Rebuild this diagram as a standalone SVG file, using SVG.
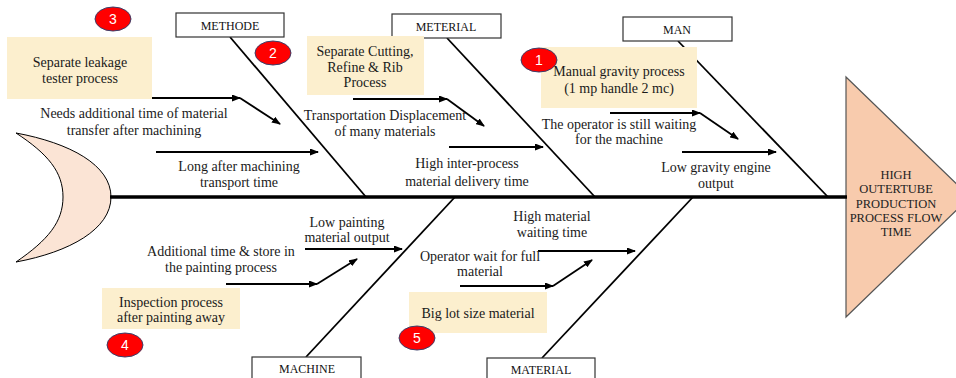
<svg xmlns="http://www.w3.org/2000/svg" width="956" height="378" viewBox="0 0 956 378">
<style>
.t{font-family:"Liberation Serif","Times New Roman",serif;font-size:14px;fill:#1a1a1a;text-anchor:middle}
.c{font-family:"Liberation Serif","Times New Roman",serif;font-size:12px;fill:#111;text-anchor:middle}
.h{font-family:"Liberation Serif","Times New Roman",serif;font-size:12.5px;fill:#222;text-anchor:middle}
.n{font-family:"Liberation Sans",Arial,sans-serif;font-size:14px;fill:#fff;text-anchor:middle}
.cat{fill:#fff;stroke:#333;stroke-width:1.2}
.note{fill:#FCEFCE}
.bone{stroke:#000;stroke-width:1.8;fill:none}
.arr{stroke:#000;stroke-width:1.8;fill:none}
.badge{fill:#FF0000;stroke:#3a3f6a;stroke-width:1}
</style>
<defs>
<marker id="ah" markerWidth="9" markerHeight="7" refX="8" refY="3.5" orient="auto" markerUnits="userSpaceOnUse">
<path d="M0,0 L9,3.5 L0,7 z" fill="#000"/>
</marker>
</defs>
<g id="tail">
<path d="M16,133 C70,143 111,165 111,197 C111,229 70,252 16,262 C48,240 63,222 63,197 C63,172 48,154 16,133 Z" fill="#FBE4D5" stroke="#000" stroke-width="1"/>
</g>
<g id="head">
<polygon points="846,77 970,197 846,317" fill="#F8CBAD" stroke="#555" stroke-width="1.2"/>
<text class="h" x="896" y="179">HIGH</text>
<text class="h" x="896" y="193">OUTERTUBE</text>
<text class="h" x="896" y="208">PRODUCTION</text>
<text class="h" x="896" y="222">PROCESS FLOW</text>
<text class="h" x="896" y="236">TIME</text>
</g>
<g id="connectors">
<line x1="110" y1="197" x2="847" y2="197" stroke="#000" stroke-width="3.5"/>
<line class="bone" x1="230" y1="37" x2="366" y2="197"/>
<line class="bone" x1="447" y1="38" x2="595" y2="197"/>
<line class="bone" x1="678" y1="41" x2="828" y2="197"/>
<line class="bone" x1="455" y1="197" x2="306" y2="357"/>
<line class="bone" x1="693" y1="197" x2="542" y2="358"/>
<line class="arr" x1="148" y1="98" x2="240" y2="98" marker-end="url(#ah)"/>
<line class="arr" x1="240" y1="98" x2="280" y2="124" marker-end="url(#ah)"/>
<line class="arr" x1="156" y1="152" x2="318" y2="152" marker-end="url(#ah)"/>
<line class="arr" x1="353" y1="99" x2="447" y2="99" marker-end="url(#ah)"/>
<line class="arr" x1="447" y1="99" x2="484" y2="126" marker-end="url(#ah)"/>
<line class="arr" x1="449" y1="147" x2="543" y2="147" marker-end="url(#ah)"/>
<line class="arr" x1="610" y1="113" x2="700" y2="113" marker-end="url(#ah)"/>
<line class="arr" x1="700" y1="113" x2="738" y2="139" marker-end="url(#ah)"/>
<line class="arr" x1="682" y1="152" x2="776" y2="152" marker-end="url(#ah)"/>
<line class="arr" x1="305" y1="249" x2="402" y2="249" marker-end="url(#ah)"/>
<line class="arr" x1="226" y1="284" x2="317" y2="284" marker-end="url(#ah)"/>
<line class="arr" x1="317" y1="284" x2="357" y2="259" marker-end="url(#ah)"/>
<line class="arr" x1="538" y1="251" x2="635" y2="251" marker-end="url(#ah)"/>
<line class="arr" x1="460" y1="286" x2="553" y2="286" marker-end="url(#ah)"/>
<line class="arr" x1="553" y1="286" x2="592" y2="260" marker-end="url(#ah)"/>
</g>
<g id="cat-methode"><rect class="cat" x="176" y="13" width="108" height="24"/><text class="c" x="230" y="30">METHODE</text></g>
<g id="cat-meterial"><rect class="cat" x="392" y="14" width="109" height="24"/><text class="c" x="446" y="31">METERIAL</text></g>
<g id="cat-man"><rect class="cat" x="623" y="17" width="109" height="24"/><text class="c" x="677" y="34">MAN</text></g>
<g id="cat-machine"><rect class="cat" x="252" y="357" width="109" height="26"/><text class="c" x="307" y="373">MACHINE</text></g>
<g id="cat-material"><rect class="cat" x="487" y="358" width="108" height="26"/><text class="c" x="541" y="374">MATERIAL</text></g>
<g id="note-leakage"><rect class="note" x="7" y="37" width="145" height="62"/><text class="t" x="80" y="67">Separate leakage</text><text class="t" x="80" y="83">tester process</text></g>
<g id="note-cutting"><rect class="note" x="307" y="36" width="117" height="59"/><text class="t" x="365" y="56">Separate Cutting,</text><text class="t" x="365" y="72">Refine &amp; Rib</text><text class="t" x="365" y="87">Process</text></g>
<g id="note-gravity"><rect class="note" x="541" y="47" width="156" height="61"/><text class="t" x="619" y="76">Manual gravity process</text><text class="t" x="619" y="93">(1 mp handle 2 mc)</text></g>
<g id="note-inspection"><rect class="note" x="102" y="288" width="138" height="41"/><text class="t" x="171" y="307">Inspection process</text><text class="t" x="171" y="322">after painting away</text></g>
<g id="note-lot"><rect class="note" x="409" y="292" width="138" height="41"/><text class="t" x="478" y="318">Big lot size material</text></g>
<g id="cause-needs"><text class="t" x="134" y="118">Needs additional time of material</text><text class="t" x="134" y="135">transfer after machining</text></g>
<g id="cause-long"><text class="t" x="239" y="171">Long after machining</text><text class="t" x="239" y="187">transport time</text></g>
<g id="cause-transport"><text class="t" x="385" y="120">Transportation Displacement</text><text class="t" x="385" y="136">of many materials</text></g>
<g id="cause-inter"><text class="t" x="467" y="168">High inter-process</text><text class="t" x="467" y="186">material delivery time</text></g>
<g id="cause-operator"><text class="t" x="619" y="129">The operator is still waiting</text><text class="t" x="619" y="144">for the machine</text></g>
<g id="cause-lowgravity"><text class="t" x="716" y="172">Low gravity engine</text><text class="t" x="716" y="188">output</text></g>
<g id="cause-lowpaint"><text class="t" x="347" y="227">Low painting</text><text class="t" x="347" y="242">material output</text></g>
<g id="cause-additional"><text class="t" x="221" y="256">Additional time &amp; store in</text><text class="t" x="221" y="272">the painting process</text></g>
<g id="cause-highmat"><text class="t" x="552" y="221">High material</text><text class="t" x="552" y="237">waiting time</text></g>
<g id="cause-opwait"><text class="t" x="480" y="261">Operator wait for full</text><text class="t" x="480" y="276">material</text></g>
<g id="badge-1"><ellipse class="badge" cx="539" cy="60" rx="18" ry="12"/><text class="n" x="539" y="65">1</text></g>
<g id="badge-2"><ellipse class="badge" cx="273" cy="53" rx="18" ry="12"/><text class="n" x="273" y="58">2</text></g>
<g id="badge-3"><ellipse class="badge" cx="113" cy="19" rx="18" ry="12"/><text class="n" x="113" y="24">3</text></g>
<g id="badge-4"><ellipse class="badge" cx="125" cy="345" rx="18" ry="12"/><text class="n" x="125" y="350">4</text></g>
<g id="badge-5"><ellipse class="badge" cx="417" cy="338" rx="18" ry="12"/><text class="n" x="417" y="343">5</text></g>
</svg>
